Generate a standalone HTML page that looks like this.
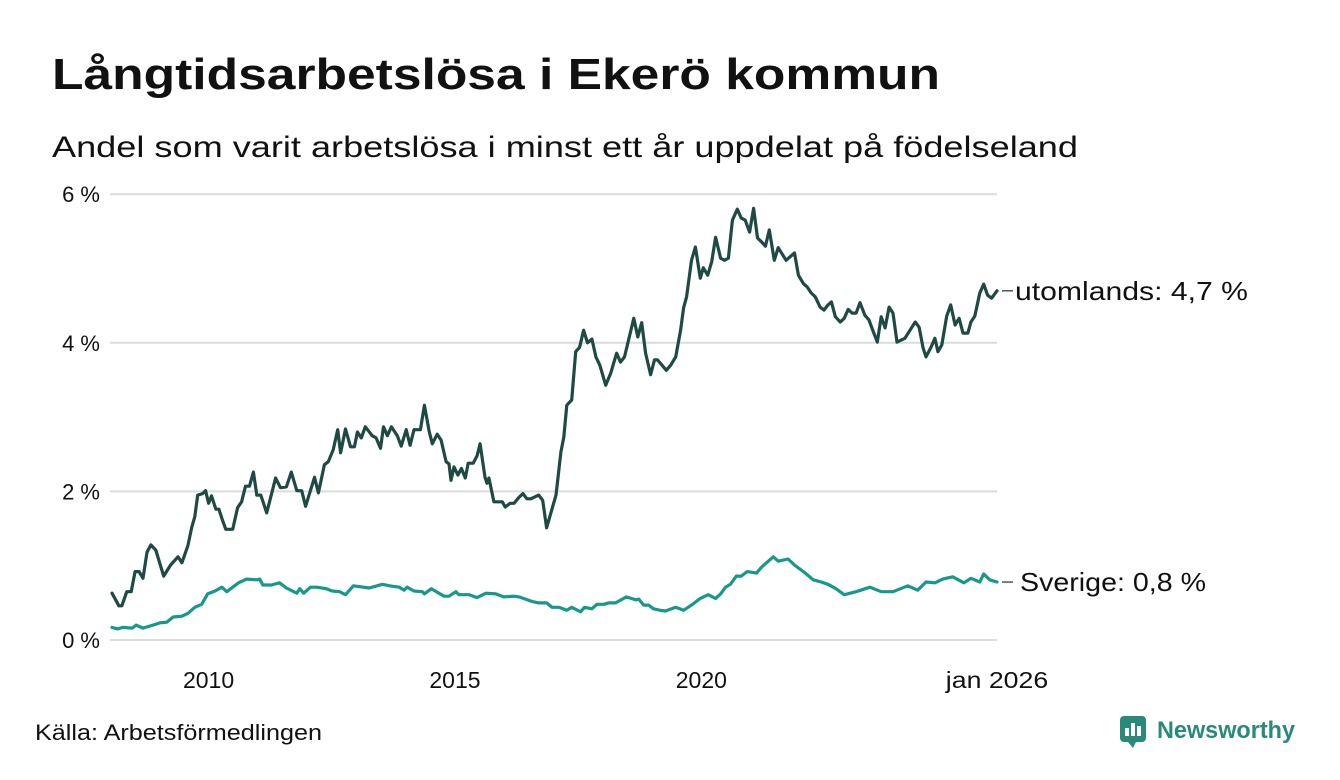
<!DOCTYPE html>
<html><head><meta charset="utf-8"><style>
html,body{margin:0;padding:0;background:#fff;}
svg{display:block;font-family:"Liberation Sans",sans-serif;}
</style></head><body>
<svg id="chart" width="1340" height="780" viewBox="0 0 1340 780" xmlns="http://www.w3.org/2000/svg">
<text x="52" y="89" font-size="44" font-weight="bold" fill="#111" textLength="888" lengthAdjust="spacingAndGlyphs">Långtidsarbetslösa i Ekerö kommun</text>
<text x="52" y="157" font-size="30" fill="#111" textLength="1026" lengthAdjust="spacingAndGlyphs">Andel som varit arbetslösa i minst ett år uppdelat på födelseland</text>
<g id="grid"></g>
<g id="yaxis"></g>
<g id="xaxis"></g>
<g id="series"></g>
<g id="labels"></g>
<text x="35" y="740" font-size="22" fill="#111" textLength="287" lengthAdjust="spacingAndGlyphs">Källa: Arbetsförmedlingen</text>
<g>
<rect x="1120" y="716" width="26" height="26" rx="4" fill="#2a8a7a"/>
<rect x="1125" y="728" width="4" height="8" fill="#fff"/><rect x="1131" y="723" width="4" height="13" fill="#fff"/><rect x="1137" y="726" width="4" height="10" fill="#fff"/>
<path d="M1128 742 L1133 748 L1136 742 Z" fill="#2a8a7a"/>
<text x="1157" y="738" font-size="24" font-weight="bold" fill="#2a8a7a" textLength="138" lengthAdjust="spacingAndGlyphs">Newsworthy</text>
</g>
</svg>
<script>
const yTicks = [0, 2, 4, 6];
const yTickLabels = ["0 %", "2 %", "4 %", "6 %"];
const xTicks = [2010, 2015, 2020, 2026];
const xTickLabels = ["2010", "2015", "2020", "jan 2026"];
const foreignDates = [2008.04,2008.18,2008.24,2008.34,2008.43,2008.51,2008.59,2008.67,2008.75,2008.83,2008.93,2009.09,2009.23,2009.38,2009.46,2009.58,2009.66,2009.72,2009.78,2009.88,2009.94,2010.00,2010.06,2010.15,2010.21,2010.29,2010.35,2010.49,2010.59,2010.67,2010.75,2010.83,2010.91,2010.98,2011.06,2011.18,2011.36,2011.46,2011.58,2011.68,2011.79,2011.89,2011.97,2012.15,2012.23,2012.35,2012.43,2012.53,2012.62,2012.68,2012.78,2012.88,2012.96,2013.02,2013.10,2013.18,2013.32,2013.40,2013.49,2013.55,2013.63,2013.71,2013.83,2013.91,2014.01,2014.09,2014.17,2014.30,2014.38,2014.48,2014.54,2014.64,2014.72,2014.82,2014.88,2014.92,2014.98,2015.06,2015.13,2015.21,2015.27,2015.37,2015.45,2015.51,2015.61,2015.65,2015.69,2015.79,2015.96,2016.02,2016.12,2016.20,2016.30,2016.38,2016.46,2016.54,2016.70,2016.78,2016.86,2017.05,2017.15,2017.21,2017.27,2017.37,2017.45,2017.53,2017.61,2017.69,2017.78,2017.86,2017.94,2018.06,2018.16,2018.28,2018.36,2018.44,2018.63,2018.71,2018.79,2018.87,2018.97,2019.05,2019.11,2019.29,2019.38,2019.48,2019.58,2019.64,2019.70,2019.80,2019.88,2019.98,2020.04,2020.13,2020.21,2020.29,2020.39,2020.47,2020.55,2020.63,2020.73,2020.81,2020.89,2020.98,2021.06,2021.14,2021.22,2021.30,2021.38,2021.48,2021.56,2021.72,2021.89,2021.97,2022.07,2022.15,2022.23,2022.31,2022.41,2022.49,2022.57,2022.64,2022.72,2022.82,2022.90,2022.98,2023.06,2023.14,2023.22,2023.32,2023.40,2023.49,2023.57,2023.65,2023.73,2023.81,2023.89,2023.97,2024.13,2024.34,2024.42,2024.50,2024.56,2024.66,2024.74,2024.80,2024.88,2024.98,2025.06,2025.15,2025.23,2025.31,2025.41,2025.47,2025.55,2025.65,2025.73,2025.81,2025.89,2026.00];
const foreignValues = [0.63,0.46,0.46,0.65,0.65,0.92,0.92,0.83,1.18,1.28,1.21,0.86,1.01,1.12,1.04,1.27,1.52,1.66,1.95,1.97,2.01,1.84,1.94,1.76,1.76,1.60,1.49,1.49,1.78,1.86,2.07,2.07,2.26,1.95,1.95,1.71,2.18,2.05,2.06,2.26,2.01,2.01,1.80,2.19,1.98,2.36,2.40,2.56,2.83,2.52,2.84,2.60,2.60,2.80,2.72,2.87,2.75,2.72,2.58,2.87,2.75,2.87,2.75,2.61,2.83,2.62,2.83,2.83,3.16,2.80,2.64,2.77,2.69,2.40,2.37,2.15,2.33,2.22,2.31,2.18,2.38,2.38,2.48,2.64,2.19,2.11,2.18,1.86,1.86,1.79,1.84,1.84,1.92,1.97,1.90,1.90,1.95,1.88,1.51,1.95,2.53,2.73,3.16,3.23,3.88,3.94,4.17,4.00,4.05,3.81,3.70,3.43,3.59,3.86,3.74,3.81,4.33,4.08,4.27,3.86,3.57,3.77,3.77,3.63,3.70,3.81,4.17,4.47,4.62,5.11,5.29,4.87,5.01,4.91,5.09,5.42,5.14,5.11,5.14,5.65,5.80,5.68,5.65,5.49,5.81,5.41,5.36,5.30,5.52,5.11,5.28,5.11,5.21,4.91,4.80,4.75,4.67,4.62,4.48,4.44,4.51,4.55,4.35,4.28,4.33,4.45,4.40,4.40,4.54,4.37,4.31,4.15,4.01,4.35,4.20,4.48,4.40,4.01,4.06,4.28,4.21,3.93,3.81,3.94,4.06,3.88,3.97,4.36,4.51,4.24,4.33,4.13,4.13,4.28,4.36,4.67,4.79,4.64,4.60,4.70];
const domesticDates = [2008.04,2008.16,2008.26,2008.45,2008.53,2008.67,2008.87,2009.01,2009.15,2009.28,2009.46,2009.58,2009.72,2009.86,2009.98,2010.13,2010.27,2010.37,2010.49,2010.61,2010.77,2010.98,2011.04,2011.10,2011.28,2011.44,2011.58,2011.79,2011.85,2011.93,2012.07,2012.19,2012.39,2012.51,2012.66,2012.78,2012.94,2013.26,2013.53,2013.67,2013.87,2013.97,2014.03,2014.17,2014.34,2014.38,2014.52,2014.78,2014.88,2015.02,2015.08,2015.29,2015.45,2015.63,2015.83,2015.99,2016.20,2016.30,2016.56,2016.70,2016.86,2016.97,2017.11,2017.27,2017.37,2017.55,2017.63,2017.78,2017.88,2018.02,2018.12,2018.26,2018.48,2018.67,2018.73,2018.83,2018.93,2019.03,2019.17,2019.27,2019.48,2019.64,2019.80,2019.98,2020.14,2020.29,2020.39,2020.49,2020.59,2020.71,2020.81,2020.93,2021.12,2021.22,2021.46,2021.56,2021.76,2021.89,2022.11,2022.27,2022.43,2022.57,2022.73,2022.90,2023.14,2023.42,2023.65,2023.89,2024.19,2024.39,2024.56,2024.74,2024.90,2025.10,2025.33,2025.47,2025.65,2025.73,2025.85,2026.00];
const domesticValues = [0.17,0.15,0.17,0.16,0.20,0.16,0.20,0.23,0.24,0.31,0.32,0.36,0.44,0.48,0.62,0.66,0.71,0.65,0.71,0.77,0.82,0.81,0.82,0.74,0.74,0.77,0.70,0.63,0.69,0.63,0.71,0.71,0.69,0.66,0.65,0.61,0.73,0.70,0.75,0.73,0.71,0.67,0.71,0.66,0.65,0.62,0.69,0.59,0.59,0.65,0.61,0.61,0.57,0.63,0.62,0.58,0.59,0.58,0.52,0.50,0.50,0.44,0.44,0.40,0.44,0.38,0.44,0.42,0.48,0.48,0.50,0.50,0.58,0.54,0.55,0.47,0.47,0.42,0.40,0.39,0.44,0.40,0.47,0.56,0.61,0.56,0.62,0.71,0.75,0.86,0.86,0.92,0.90,0.98,1.12,1.06,1.09,1.01,0.90,0.81,0.78,0.75,0.69,0.61,0.65,0.71,0.65,0.65,0.73,0.67,0.78,0.77,0.82,0.85,0.77,0.83,0.78,0.89,0.81,0.78];
const seriesNames = ["utomlands: 4,7 %", "Sverige: 0,8 %"];

const NS = "http://www.w3.org/2000/svg";
const x0 = 110, x1 = 997, t0 = 2008.0, t1 = 2026.0;
const yBase = 640, pxPerUnit = 74.3;
function xScale(t){ return x0 + (t - t0) / (t1 - t0) * (x1 - x0); }
function yScale(v){ return yBase - v * pxPerUnit; }
function mk(tag, attrs, parent){ const e = document.createElementNS(NS, tag); for (const k in attrs) e.setAttribute(k, attrs[k]); parent.appendChild(e); return e; }

const grid = document.getElementById('grid');
const yaxis = document.getElementById('yaxis');
yTicks.forEach((v, i) => {
  const g = mk('line', {x1: x0, x2: x1, y1: yScale(v), y2: yScale(v), stroke: '#dcdce0', 'stroke-width': 2}, grid);
  
  
  const t = mk('text', {x: 100, y: yScale(v) + 8, 'text-anchor': 'end', 'font-size': 22, fill: '#111'}, yaxis);
  t.textContent = yTickLabels[i];
  
  
});
const xaxis = document.getElementById('xaxis');
xTicks.forEach((v, i) => {
  const t = mk('text', {x: xScale(v), y: 688, 'text-anchor': 'middle', 'font-size': 23, fill: '#111', textLength: xTickLabels[i].length * 12.8, lengthAdjust: 'spacingAndGlyphs'}, xaxis);
  t.textContent = xTickLabels[i];
  
  
});

const series = document.getElementById('series');
function drawLine(dates, vals, color, name){
  const d = dates.map((t, i) => (i ? 'L' : 'M') + xScale(t).toFixed(1) + ' ' + yScale(vals[i]).toFixed(1)).join(' ');
  const p = mk('path', {d: d, fill: 'none', stroke: color, 'stroke-width': 3.2, 'stroke-linejoin': 'round', 'stroke-linecap': 'round'}, series);
  
  
}
drawLine(domesticDates, domesticValues, '#16998a', 'line-sverige');
drawLine(foreignDates, foreignValues, '#1f4a44', 'line-utomlands');

const labels = document.getElementById('labels');
function endLabel(dates, vals, text, name, w, dx){
  const y = yScale(vals[vals.length - 1]);
  const xe = xScale(dates[dates.length - 1]);
  const l = mk('line', {x1: xe + 5, x2: xe + 16, y1: y, y2: y, stroke: '#555', 'stroke-width': 1.5}, labels);
  
  
  const t = mk('text', {x: xe + dx, y: y + 9, 'font-size': 26, fill: '#111', textLength: w, lengthAdjust: 'spacingAndGlyphs'}, labels);
  t.textContent = text;
  
  
}
endLabel(foreignDates, foreignValues, seriesNames[0], 'label-utomlands', 233, 18);
endLabel(domesticDates, domesticValues, seriesNames[1], 'label-sverige', 186, 23);
</script>
</body></html>
